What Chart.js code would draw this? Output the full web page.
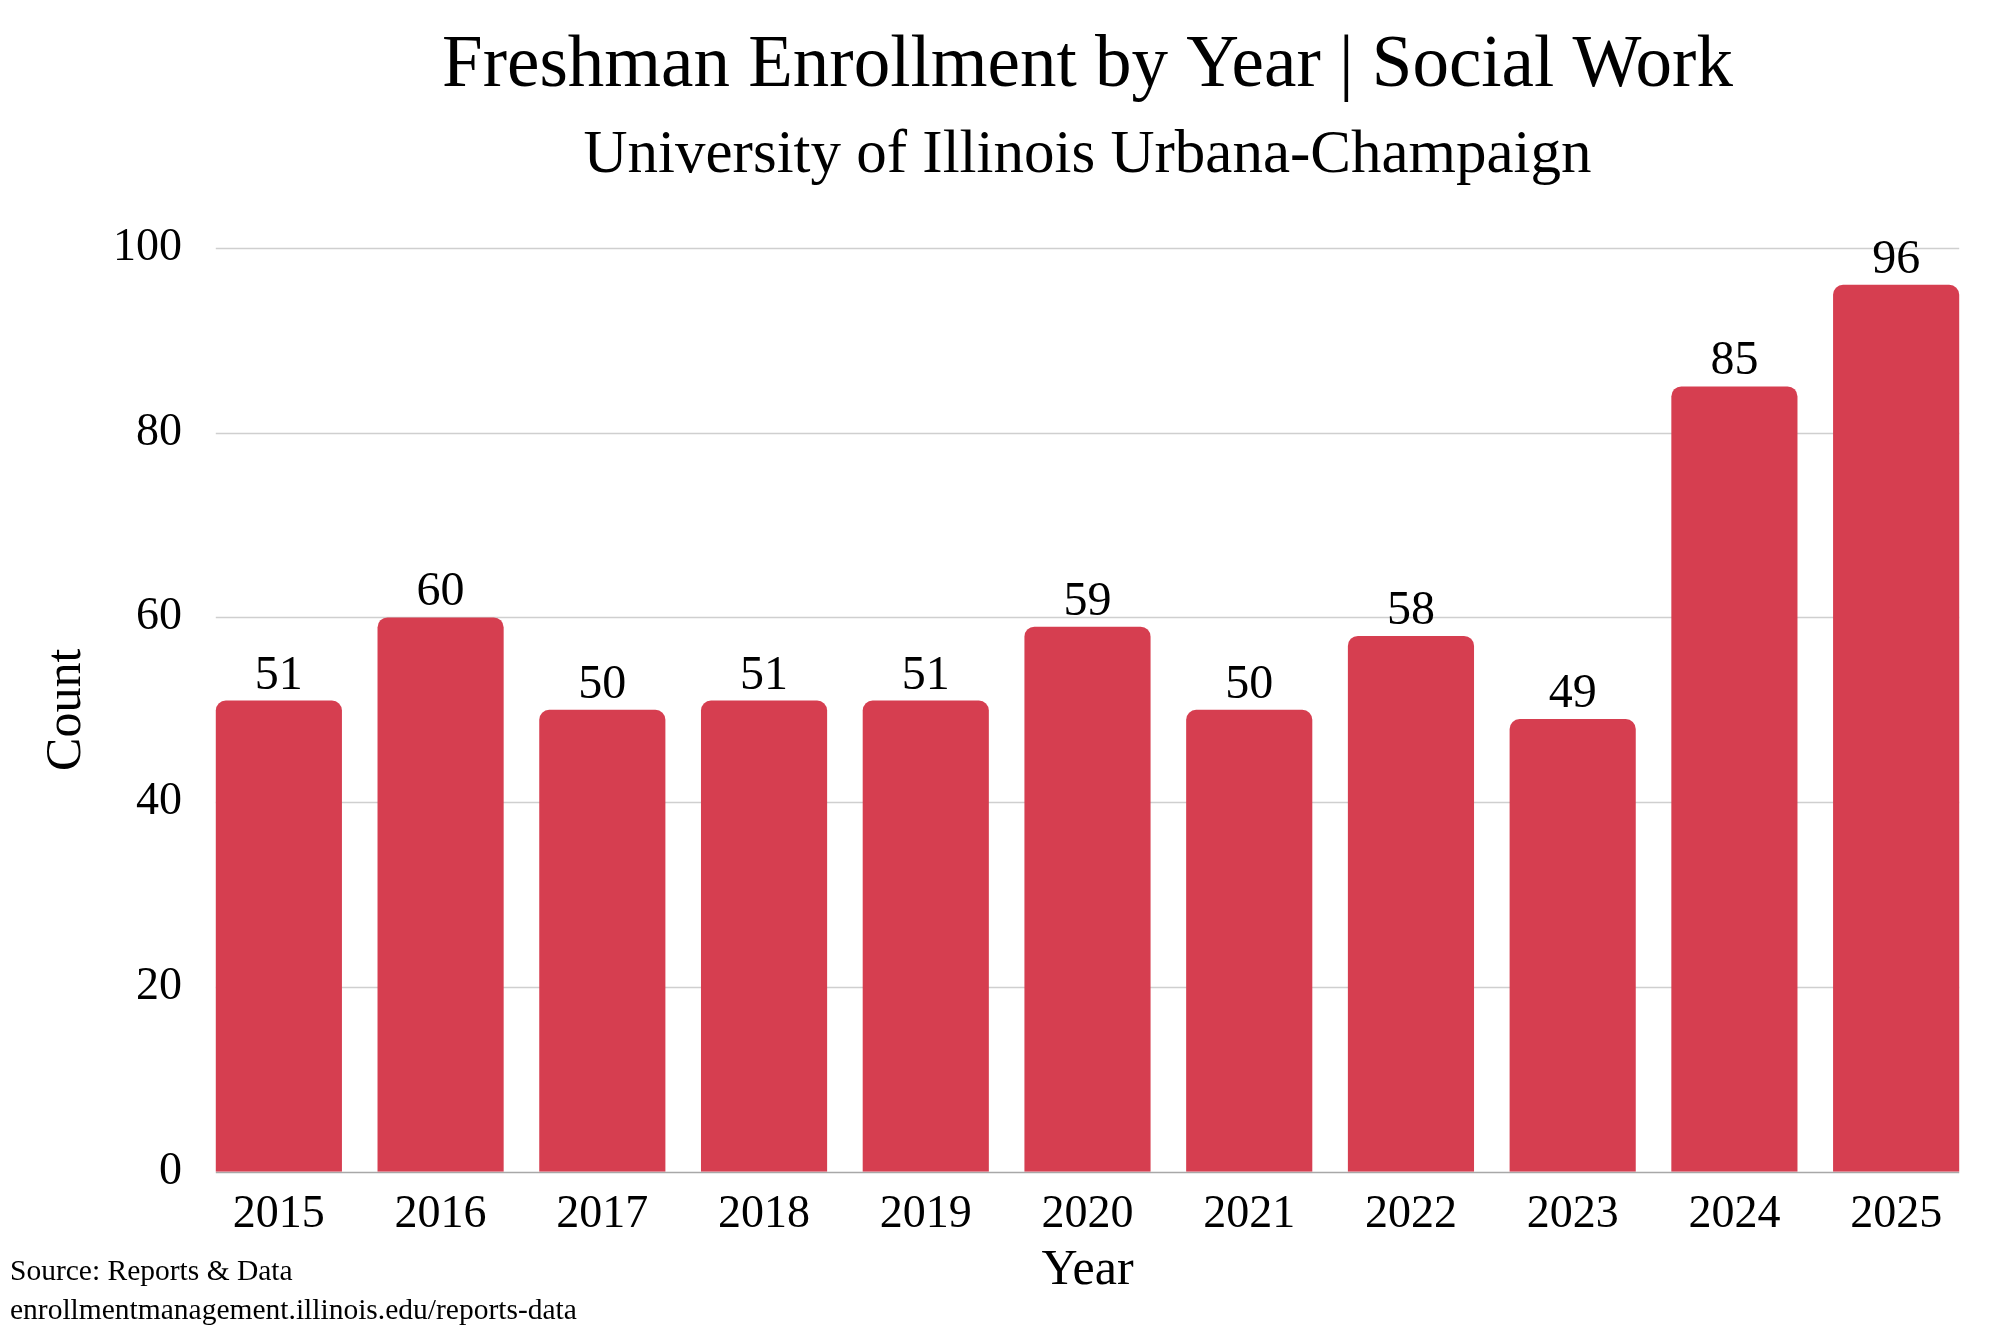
<!DOCTYPE html>
<html>
<head>
<meta charset="utf-8">
<title>Freshman Enrollment by Year | Social Work</title>
<script src="https://cdn.jsdelivr.net/npm/chart.js@4.4.1/dist/chart.umd.min.js"></script>
<style>
    html, body { margin: 0; padding: 0; background: #fff; }
    #wrap { position: relative; width: 2001px; height: 1334px; }
    #source {
        position: absolute; left: 10px; top: 1251px;
        font-family: "Liberation Serif", serif; font-size: 29.5px; line-height: 39px; color: #000;
    }
</style>
</head>
<body>
<div id="wrap">
    <canvas id="enrollChart" width="2001" height="1334"></canvas>
    <div id="source">Source: Reports &amp; Data<br>enrollmentmanagement.illinois.edu/reports-data</div>
</div>
<script>
// data
const years = ["2015", "2016", "2017", "2018", "2019", "2020", "2021", "2022", "2023", "2024", "2025"];
const counts = [51, 60, 50, 51, 51, 59, 50, 58, 49, 85, 96];
const yTicks = [0, 20, 40, 60, 80, 100];

const BAR_RED = "rgb(214, 62, 80)";
Chart.defaults.font.family = "'Liberation Serif', 'Times New Roman', serif";
Chart.defaults.color = "#000";

// horizontal grid lines, only as wide as the bars span
const gridPlugin = {
    id: "barGrid",
    beforeDatasetsDraw(chart) {
        const ctx = chart.ctx;
        const bars = chart.getDatasetMeta(0).data;
        const first = bars[0], last = bars[bars.length - 1];
        const x0 = first.x - first.width / 2;
        const x1 = last.x + last.width / 2;
        const yScale = chart.scales.y;
        ctx.save();
        yScale.ticks.forEach(t => {
            const y = Math.round(yScale.getPixelForValue(t.value)) + 0.5;
            ctx.strokeStyle = t.value === 0 ? "#a8a8a8" : "#cfcfcf";
            ctx.lineWidth = 1.5;
            ctx.beginPath();
            ctx.moveTo(x0, y);
            ctx.lineTo(x1, y);
            ctx.stroke();
        });
        ctx.restore();
    }
};

// value labels above each bar
const valueLabels = {
    id: "valueLabels",
    afterDatasetsDraw(chart) {
        const ctx = chart.ctx;
        ctx.save();
        ctx.font = "48px 'Liberation Serif'";
        ctx.fillStyle = "#000";
        ctx.textAlign = "center";
        ctx.textBaseline = "alphabetic";
        chart.getDatasetMeta(0).data.forEach((bar, i) => {
            ctx.fillText(String(counts[i]), bar.x, bar.y - 12);
        });
        ctx.restore();
    }
};

new Chart(document.getElementById("enrollChart"), {
    type: "bar",
    data: {
        labels: years,
        datasets: [{
            label: "Count",
            data: counts,
            backgroundColor: BAR_RED,
            borderRadius: 10,
            barPercentage: 0.78,
            categoryPercentage: 1.0
        }]
    },
    options: {
        responsive: false,
        devicePixelRatio: 1,
        animation: false,
        layout: { padding: { left: 12, right: 24, top: 0, bottom: 43 } },
        plugins: {
            legend: { display: false },
            tooltip: { enabled: false },
            title: {
                display: true,
                fullSize: false,
                text: "Freshman Enrollment by Year | Social Work",
                font: { size: 73, weight: "normal" },
                color: "#000",
                padding: { top: 23, bottom: 0 }
            },
            subtitle: {
                display: true,
                fullSize: false,
                text: "University of Illinois Urbana-Champaign",
                font: { size: 61, weight: "normal" },
                color: "#000",
                padding: { top: 9, bottom: 55 }
            }
        },
        scales: {
            x: {
                grid: { display: false, drawTicks: false },
                border: { display: false },
                ticks: { font: { size: 46 }, color: "#000", padding: 16 },
                title: {
                    display: true,
                    text: "Year",
                    font: { size: 50, lineHeight: 0.8 },
                    color: "#000",
                    padding: { top: -8, bottom: 0 }
                }
            },
            y: {
                min: 0,
                max: 100,
                afterBuildTicks(scale) {
                    scale.ticks = yTicks.map(v => ({ value: v }));
                },
                grid: { display: false, drawTicks: false },
                border: { display: false },
                ticks: { font: { size: 46 }, color: "#000", padding: 16 },
                title: {
                    display: true,
                    text: "Count",
                    font: { size: 50 },
                    color: "#000",
                    padding: { top: 25, bottom: 0 }
                }
            }
        }
    },
    plugins: [gridPlugin, valueLabels]
});
</script>
</body>
</html>
